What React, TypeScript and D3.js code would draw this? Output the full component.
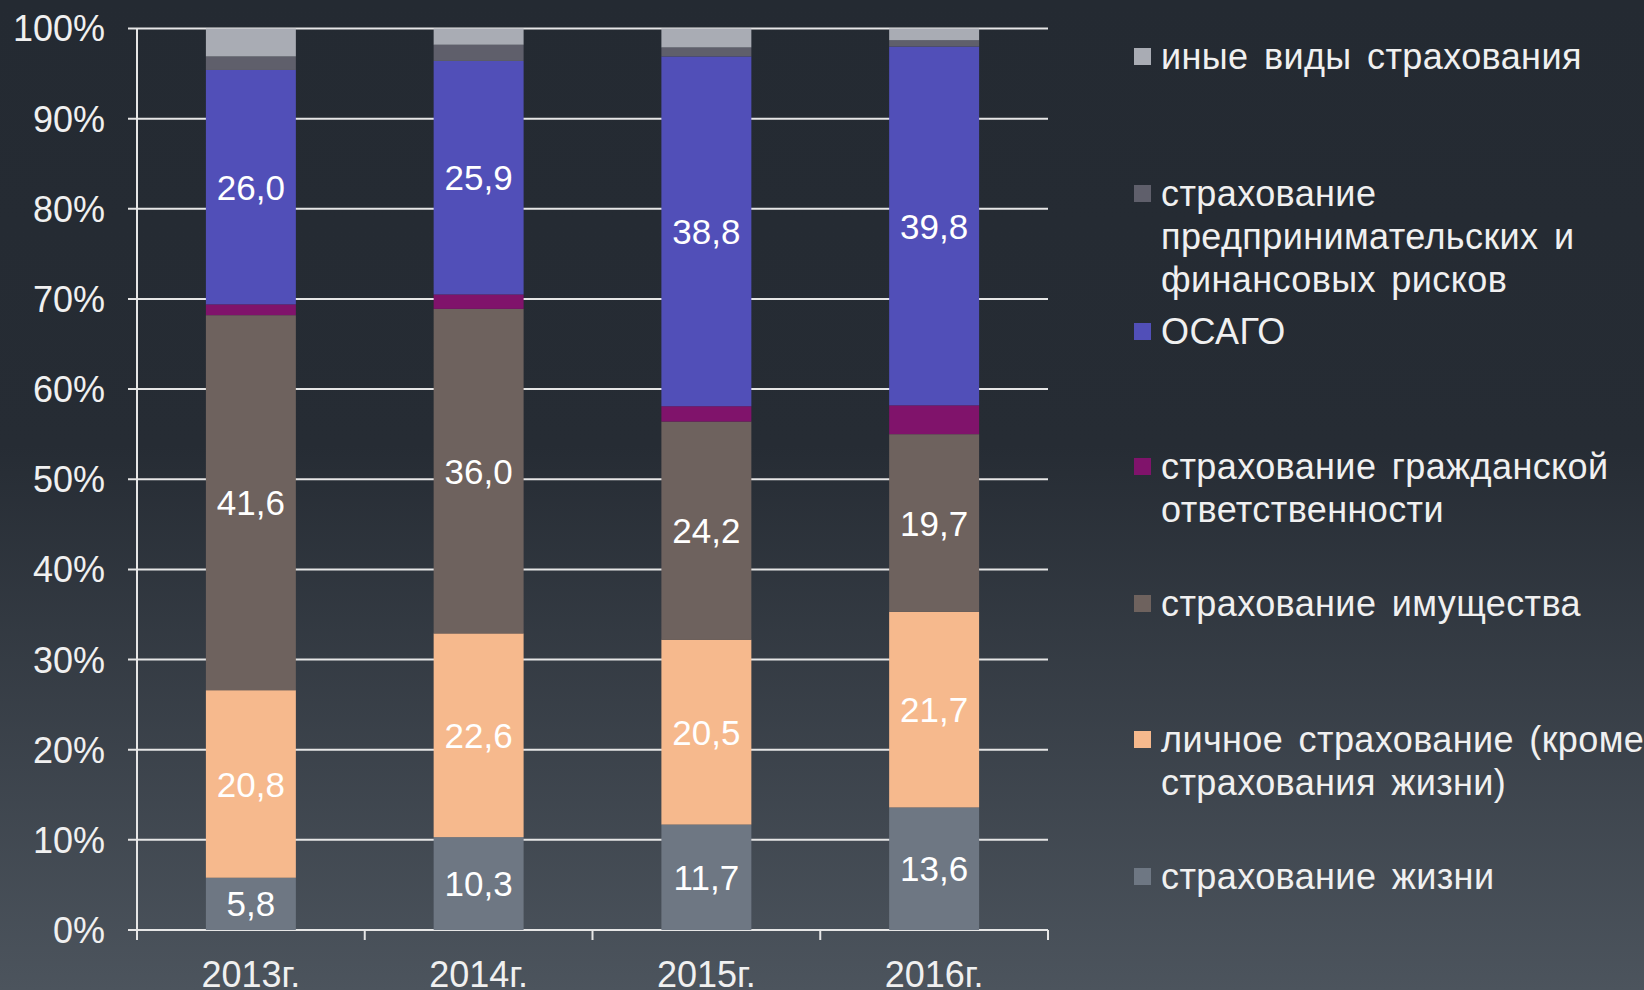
import React from "react";
import * as d3 from "d3";

const categories = ["2013г.", "2014г.", "2015г.", "2016г."];
const life = [5.8, 10.3, 11.7, 13.6];
const personal = [20.8, 22.6, 20.5, 21.7];
const property = [41.6, 36.0, 24.2, 19.7];
const liability = [1.2, 1.6, 1.7, 3.2];
const osago = [26.0, 25.9, 38.8, 39.8];
const business = [1.5, 1.8, 1.0, 0.7];
const other = [3.1, 1.8, 2.1, 1.3];
const yTicks = [0, 10, 20, 30, 40, 50, 60, 70, 80, 90, 100];

const seriesKeys = ["life", "personal", "property", "liability", "osago", "business", "other"];
const seriesValues: Record<string, number[]> = { life, personal, property, liability, osago, business, other };
const seriesColors: Record<string, string> = {
  life: "#6e7783",
  personal: "#f6b98d",
  property: "#6e625e",
  liability: "#80136b",
  osago: "#514fb8",
  business: "#5f5f6b",
  other: "#a9acb4",
};
const labelled = new Set(["life", "personal", "property", "osago"]);

const legendItems = [
  { key: "other", lines: ["иные виды страхования"] },
  { key: "business", lines: ["страхование", "предпринимательских и", "финансовых рисков"] },
  { key: "osago", lines: ["ОСАГО"] },
  { key: "liability", lines: ["страхование гражданской", "ответственности"] },
  { key: "property", lines: ["страхование имущества"] },
  { key: "personal", lines: ["личное страхование (кроме", "страхования жизни)"] },
  { key: "life", lines: ["страхование жизни"] },
];
const legendBaselines = [69, 206, 344, 479, 616, 752, 889];

const W = 1644, H = 990;
const left = 137, right = 1048, top = 28.5, bottom = 930;
const FONT = "'Liberation Sans', Arial, sans-serif";

export default function App() {
  const x = d3.scaleBand<string>().domain(categories).range([left, right]).paddingInner(0.605).paddingOuter(0.3025);
  const y = d3.scaleLinear().domain([0, 100]).range([bottom, top]);
  const rows = categories.map((c, i) => {
    const r: any = { cat: c };
    seriesKeys.forEach((k) => (r[k] = seriesValues[k][i]));
    return r;
  });
  const stacked = d3.stack<any>().keys(seriesKeys)(rows);
  const step = x.step();
  const boundaries = d3.range(categories.length + 1).map((i) => left + i * step);

  return (
    <svg width={W} height={H} style={{ position: "fixed", left: 0, top: 0, display: "block" }} fontFamily={FONT}>
      <defs>
        <linearGradient id="bg" x1="0" y1="0" x2="0" y2="1">
          <stop offset="0" stopColor="#242a32" />
          <stop offset="0.45" stopColor="#262c34" />
          <stop offset="1" stopColor="#4c545d" />
        </linearGradient>
      </defs>
      <rect x={0} y={0} width={W} height={H} fill="url(#bg)" />
      {yTicks.map((t) => (
        <g key={t}>
          <line x1={left - 9} x2={right} y1={y(t)} y2={y(t)} stroke="#e6e6e6" strokeWidth={2} />
          <text x={105} y={y(t)} dy="0.36em" textAnchor="end" fill="#f0f0f0" fontSize={36}>
            {t}%
          </text>
        </g>
      ))}
      <line x1={left} x2={left} y1={top} y2={bottom + 10} stroke="#e6e6e6" strokeWidth={2} />
      {boundaries.map((b, i) => (
        <line key={i} x1={b} x2={b} y1={bottom} y2={bottom + 10} stroke="#e6e6e6" strokeWidth={2} />
      ))}
      {stacked.map((s) => (
        <g key={s.key}>
          {s.map((d, i) => (
            <rect
              key={i}
              x={x(categories[i])}
              width={x.bandwidth()}
              y={y(d[1])}
              height={y(d[0]) - y(d[1])}
              fill={seriesColors[s.key]}
            />
          ))}
        </g>
      ))}
      {stacked
        .filter((s) => labelled.has(s.key))
        .map((s) =>
          s.map((d, i) => (
            <text
              key={s.key + i}
              x={(x(categories[i]) as number) + x.bandwidth() / 2}
              y={(y(d[0]) + y(d[1])) / 2}
              dy="0.36em"
              textAnchor="middle"
              fill="#ffffff"
              fontSize={35}
            >
              {d3.format(".1f")(d[1] - d[0]).replace(".", ",")}
            </text>
          ))
        )}
      {categories.map((c) => (
        <text key={c} x={(x(c) as number) + x.bandwidth() / 2} y={987} textAnchor="middle" fill="#f0f0f0" fontSize={36}>
          {c}
        </text>
      ))}
      {legendItems.map((it, i) => (
        <g key={it.key}>
          <rect x={1134} y={legendBaselines[i] - 21} width={17} height={17} fill={seriesColors[it.key]} />
          {it.lines.map((ln, j) => (
            <text
              key={j}
              x={1161}
              y={legendBaselines[i] + j * 43}
              fill="#f0f0f0"
              fontSize={36}
              style={{ wordSpacing: "5px", letterSpacing: "0.4px" }}
            >
              {ln}
            </text>
          ))}
        </g>
      ))}
    </svg>
  );
}
